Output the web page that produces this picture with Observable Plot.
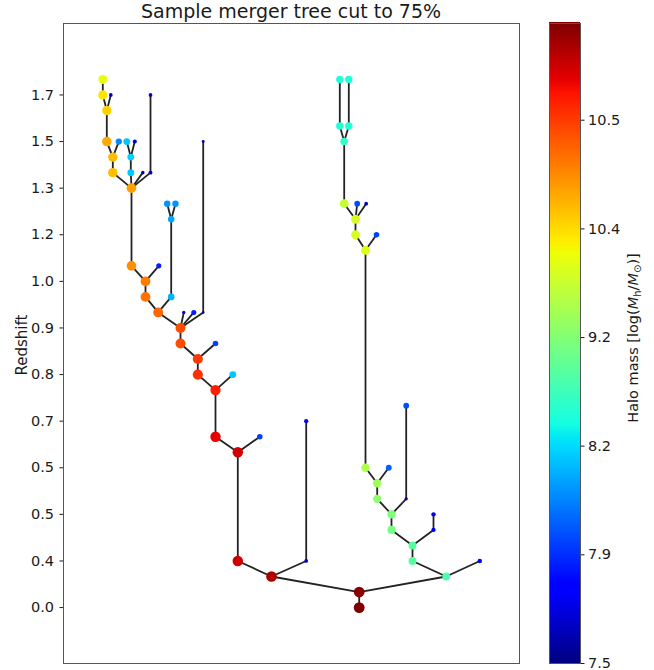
<!DOCTYPE html>
<html>
<head>
<meta charset="utf-8">
<script src="https://cdn.jsdelivr.net/npm/d3@7"></script>
<script src="https://cdn.jsdelivr.net/npm/@observablehq/plot@0.6"></script>
<style>
  body { margin: 0; background: #fff; font-family: "DejaVu Sans", sans-serif; }
  #wrap { position: relative; width: 654px; height: 670px; overflow: hidden; background: #fff; }
  #wrap svg { position: absolute; left: 0; top: 0; }
  .lbl { position: absolute; color: #1a1a1a; white-space: nowrap; font-family: "DejaVu Sans", sans-serif; }
</style>
</head>
<body>
<div id="wrap"></div>
<script>
// ---------------- data ----------------
// tree layout position (horizontal), snapshot level (vertical), normalised halo mass, descendant index
const nodeX = [295.7, 295.7, 208, 382.7, 174.3, 242.7, 242.7, 174.3, 152, 196.3,
  152, 134.3, 169.3, 134.3, 117, 152, 117, 94.7, 120.3, 130.3,
  139.7, 139.7, 82, 107.7, 107.7, 103.7, 112, 82, 68, 95.3,
  68, 49.3, 67.3, 79.3, 87, 87, 49.3, 43.3, 55.3, 67.3,
  63.3, 71.3, 43.3, 39.3, 47.3, 39.3,
  349, 416.3, 349, 328, 370, 370, 328, 313.7, 342.7, 342.7,
  313.7, 302, 325.3, 302, 292, 313, 292, 280.7, 293.7, 302.7,
  280.7, 276.3, 285.3, 276.3, 285.3];
const nodeLevel = [0, 1, 2, 2, 3, 3, 12, 10, 11, 11,
  14, 15, 15, 16, 17, 17, 18, 19, 19, 19,
  19, 30, 20, 20, 25, 26, 26, 21, 22, 22,
  27, 28, 28, 28, 28, 33, 29, 30, 30, 29,
  30, 30, 32, 33, 33, 34,
  3, 3, 4, 5, 5, 6, 6, 7, 7, 13,
  8, 9, 9, 23, 24, 24, 25, 26, 26, 26,
  30, 31, 31, 34, 34];
const nodeMass = [1.00, 0.99, 0.96, 0.44, 0.93, 0.07, 0.10, 0.93, 0.91, 0.19,
  0.88, 0.86, 0.32, 0.85, 0.83, 0.19, 0.83, 0.80, 0.05, 0.15,
  0.03, 0.04, 0.79, 0.30, 0.29, 0.27, 0.27, 0.78, 0.76, 0.155,
  0.74, 0.71, 0.32, 0.06, 0.08, 0.07, 0.71, 0.73, 0.26, 0.33,
  0.32, 0.09, 0.69, 0.67, 0.07, 0.63,
  0.46, 0.11, 0.46, 0.49, 0.10, 0.11, 0.50, 0.52, 0.05, 0.20,
  0.54, 0.56, 0.22, 0.62, 0.61, 0.19, 0.61, 0.59, 0.20, 0.07,
  0.41, 0.39, 0.39, 0.39, 0.39];
const nodeParent = [-1, 0, 1, 1, 2, 2, 5, 4, 7, 7,
  8, 10, 10, 11, 13, 13, 14, 16, 16, 16,
  16, 20, 17, 17, 23, 24, 24, 22, 27, 27,
  28, 30, 30, 30, 30, 34, 31, 36, 36, 32,
  39, 39, 37, 42, 42, 43,
  3, 3, 46, 48, 48, 50, 49, 52, 52, 54,
  53, 56, 56, 57, 59, 59, 60, 62, 62, 62,
  63, 66, 66, 67, 68];

const yTickLevels = [0, 3, 6, 9, 12, 15, 18, 21, 24, 27, 30, 33];
const yTickLabels = ["0.0", "0.4", "0.5", "0.5", "0.7", "0.8", "0.9", "1.0", "1.2", "1.3", "1.5", "1.7"];

const cbTickPos = [0, 0.1698, 0.3396, 0.5093, 0.6791, 0.8489];
const cbTickLabels = ["7.5", "7.9", "8.2", "9.2", "10.4", "10.5"];

const titleText = "Sample merger tree cut to 75%";

// ---------------- jet colormap ----------------
function pl(t, pts) {
  if (t <= pts[0][0]) return pts[0][1];
  for (let k = 1; k < pts.length; k++) {
    if (t <= pts[k][0]) {
      const [x0, y0] = pts[k - 1], [x1, y1] = pts[k];
      return y0 + (y1 - y0) * (t - x0) / (x1 - x0);
    }
  }
  return pts[pts.length - 1][1];
}
function jet(t) {
  const r = pl(t, [[0, 0], [0.35, 0], [0.66, 1], [0.89, 1], [1, 0.5]]);
  const g = pl(t, [[0, 0], [0.125, 0], [0.375, 1], [0.64, 1], [0.91, 0], [1, 0]]);
  const b = pl(t, [[0, 0.5], [0.11, 1], [0.34, 1], [0.65, 0], [1, 0]]);
  return d3.rgb(r * 255, g * 255, b * 255).formatHex();
}

const colorScale = {type: "linear", domain: [0, 1], interpolate: jet};

// ---------------- main tree ----------------
const idx = d3.range(nodeX.length);
const links = idx.filter(i => nodeParent[i] >= 0);

const main = Plot.plot({
  width: 654, height: 670,
  marginLeft: 63, marginRight: 135, marginTop: 23, marginBottom: 7,
  style: {background: "transparent", fontFamily: "DejaVu Sans", fontSize: "14.5px", color: "#1a1a1a", overflow: "visible"},
  x: {domain: [0, 456], axis: null},
  y: {domain: [-3.6, 37.6]},
  r: {type: "pow", exponent: 0.4, domain: [0, 1], range: [0, 5.4]},
  color: colorScale,
  marks: [
    Plot.frame({stroke: "#555", strokeWidth: 1}),
    Plot.axisY(yTickLevels, {anchor: "left", tickSize: 3.5, tickPadding: 6, fontSize: 14.5,
      tickFormat: d => yTickLabels[yTickLevels.indexOf(d)], label: null}),
    Plot.link(links, {
      x1: i => nodeX[i], y1: i => nodeLevel[i],
      x2: i => nodeX[nodeParent[i]], y2: i => nodeLevel[nodeParent[i]],
      stroke: "#222", strokeWidth: 1.8
    }),
    Plot.dot(idx, {x: i => nodeX[i], y: i => nodeLevel[i], r: i => nodeMass[i], fill: i => nodeMass[i], stroke: null})
  ]
});

// ---------------- colour bar ----------------
const nb = 400;
const bands = d3.range(nb).map(k => k / nb);
const cbar = Plot.plot({
  width: 654, height: 670,
  marginLeft: 549, marginRight: 74, marginTop: 23, marginBottom: 7,
  style: {background: "transparent", fontFamily: "DejaVu Sans", fontSize: "14.5px", color: "#1a1a1a", overflow: "visible"},
  x: {domain: [0, 1], axis: null},
  y: {domain: [0, 1]},
  color: colorScale,
  marks: [
    Plot.rect(bands, {x1: 0, x2: 1, y1: d => d, y2: d => d + 1.5 / nb, fill: d => d + 0.5 / nb, shapeRendering: "crispEdges"}),
    Plot.frame({stroke: "#555", strokeWidth: 1}),
    Plot.axisY(cbTickPos, {anchor: "right", tickSize: 3.5, tickPadding: 4, fontSize: 14.5,
      tickFormat: d => cbTickLabels[cbTickPos.indexOf(d)], label: null})
  ]
});

const wrap = document.getElementById("wrap");
wrap.appendChild(main);
wrap.appendChild(cbar);

// title
const t = document.createElement("div");
t.className = "lbl";
t.style.cssText = "left:63px;width:456px;top:0px;text-align:center;font-size:19px;line-height:22px;";
t.textContent = titleText;
wrap.appendChild(t);

// y label
const yl = document.createElement("div");
yl.className = "lbl";
yl.style.cssText = "left:21.5px;top:345px;font-size:15px;transform:translate(-50%,-50%) rotate(-90deg);";
yl.textContent = "Redshift";
wrap.appendChild(yl);

// colour bar label
const cl = document.createElement("div");
cl.className = "lbl";
cl.style.cssText = "left:634px;top:338px;font-size:14.5px;transform:translate(-50%,-50%) rotate(-90deg);";
cl.innerHTML = "Halo mass [log(<i>M</i><sub style='font-size:10px'>h</sub>/<i>M</i><sub style='font-size:10px'>⊙</sub>)]";
wrap.appendChild(cl);
</script>
</body>
</html>
